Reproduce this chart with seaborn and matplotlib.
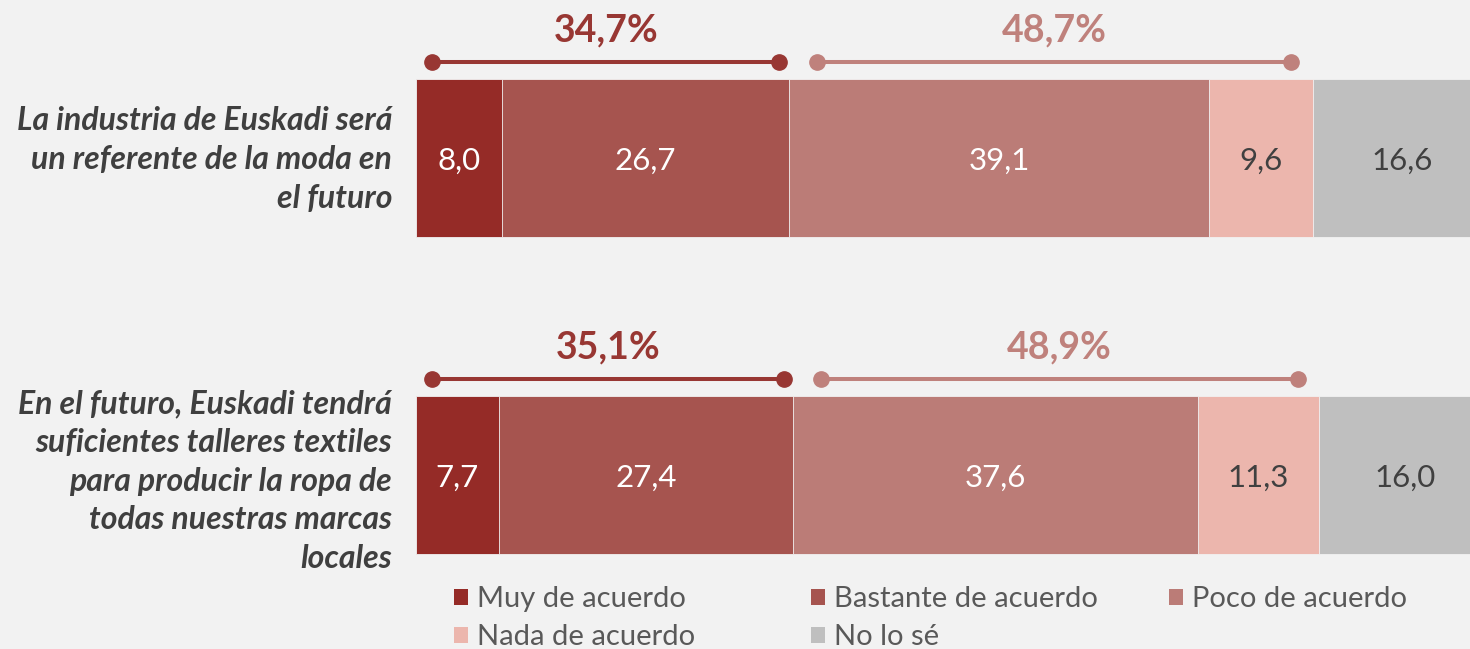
import matplotlib
matplotlib.use("Agg")
import matplotlib.pyplot as plt
import matplotlib.transforms as mtrans
import seaborn as sns
import pandas as pd
import numpy as np
from matplotlib.patches import Patch

# ---- data ----
questions = [
    "La industria de Euskadi será\nun referente de la moda en\nel futuro",
    "En el futuro, Euskadi tendrá\nsuficientes talleres textiles\npara producir la ropa de\ntodas nuestras marcas\nlocales",
]
categories = ["Muy de acuerdo", "Bastante de acuerdo", "Poco de acuerdo",
              "Nada de acuerdo", "No lo sé"]
muy = [8.0, 7.7]
bastante = [26.7, 27.4]
poco = [39.1, 37.6]
nada = [9.6, 11.3]
nolose = [16.6, 16.0]
agree_totals = ["34,7%", "35,1%"]
disagree_totals = ["48,7%", "48,9%"]

colors = ["#952b27", "#a6544f", "#bb7c77", "#ecb6ad", "#bfbfbf"]
text_colors = ["white", "white", "white", "#404040", "#404040"]
agree_col = "#983733"
disagree_col = "#bf817c"
bg = "#f2f2f2"

series = [muy, bastante, poco, nada, nolose]
vals = np.array(series)            # shape (5, 2)
cum = np.cumsum(vals, axis=0)

sns.set_theme(style="white")
plt.rcParams["font.family"] = ["Lato", "DejaVu Sans"]

fig = plt.figure(figsize=(14.7, 6.49), dpi=100, facecolor=bg)
ax = fig.add_axes([416 / 1470, 0, 1 - 416 / 1470, 1])
ax.set_facecolor(bg)

# stacked bars: draw cumulative totals from largest to smallest
for i in range(len(categories) - 1, -1, -1):
    df = pd.DataFrame({"q": questions, "v": cum[i]})
    sns.barplot(data=df, x="v", y="q", orient="h", color=colors[i],
                width=0.498, edgecolor=bg, linewidth=0.6, ax=ax,
                saturation=1, errorbar=None)

# value labels
for i in range(len(categories)):
    for j in range(len(questions)):
        xc = cum[i, j] - vals[i, j] / 2
        ax.text(xc, j + 0.038, f"{vals[i, j]:.1f}".replace(".", ","),
                ha="center", va="baseline", fontsize=22.5,
                color=text_colors[i])

# brackets
for j in range(len(questions)):
    a0, a1 = 1.5, cum[1, j] - 0.9
    d0, d1 = cum[1, j] + 2.6, cum[3, j] - 2.0
    yb = j - 0.303
    ax.plot([a0, a1], [yb, yb], color=agree_col, lw=2.9,
            marker="o", markersize=11, solid_capstyle="butt")
    ax.plot([d0, d1], [yb, yb], color=disagree_col, lw=2.9,
            marker="o", markersize=11, solid_capstyle="butt")
    ax.text((a0 + a1) / 2, j - 0.368, agree_totals[j], ha="center",
            va="baseline", fontsize=27, fontweight="bold", color=agree_col)
    ax.text((d0 + d1) / 2, j - 0.368, disagree_totals[j], ha="center",
            va="baseline", fontsize=27, fontweight="bold", color=disagree_col)

ax.set_xlim(0, (1470 - 416) / 10.75)
ax.set_ylim(1 + (649 - 475) / 317, -158 / 317)
ax.set_xlabel("")
ax.set_ylabel("")
ax.set_xticks([])
ax.set_yticks(range(len(questions)))
ax.set_yticklabels([])
ax.tick_params(axis="y", length=0)
for s in ax.spines.values():
    s.set_visible(False)

# category labels (right-aligned, left of the bars)
lab_tr = mtrans.blended_transform_factory(ax.transAxes, ax.transData)
label_dy = [0.005, 0.02]
for j, q in enumerate(questions):
    ax.text(-24 / 1054, j + label_dy[j], q, transform=lab_tr,
            ha="right", va="center", multialignment="right",
            fontsize=23, fontstyle="italic", fontweight="bold",
            color="#3f3f3f", linespacing=1.40)

# legend: three columns
col_x = [454 / 1470, 811 / 1470, 1169 / 1470]
cols = [[0, 3], [1, 4], [2]]
for cx, idxs in zip(col_x, cols):
    handles = [Patch(facecolor=colors[k], edgecolor="none") for k in idxs]
    labels = [categories[k] for k in idxs]
    fig.legend(handles, labels, loc="upper left",
               bbox_to_anchor=(cx, 1 - 586 / 649), frameon=False,
               fontsize=21, handlelength=0.48, handleheight=0.48,
               handletextpad=0.3, labelspacing=0.42, borderpad=0,
               borderaxespad=0, labelcolor="#595959")

fig.savefig("out.png", dpi=100, facecolor=bg)
